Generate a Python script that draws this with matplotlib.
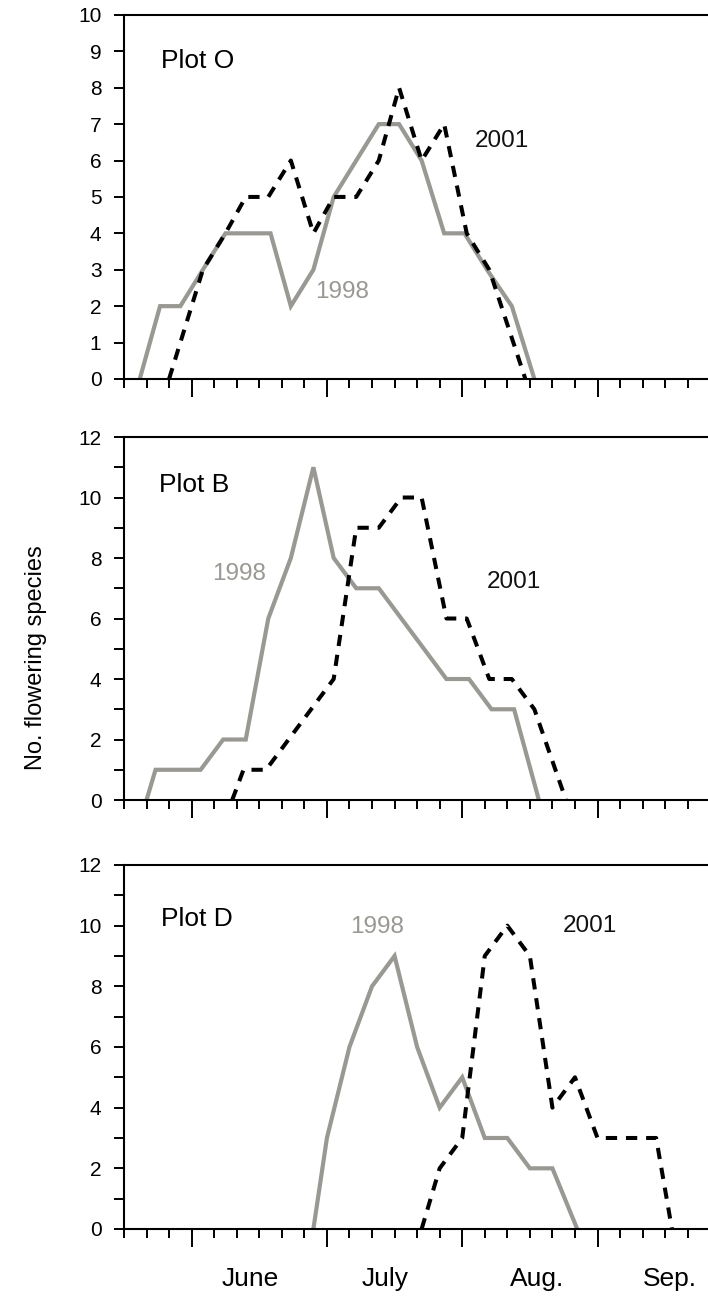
import matplotlib
matplotlib.use("Agg")
import matplotlib.pyplot as plt
from matplotlib.ticker import MultipleLocator, FixedLocator

plt.rcParams['font.family'] = ['Liberation Sans', 'DejaVu Sans']

# x values are days relative to 1 June, y values are number of flowering species
plot_o_1998_day = [-11.5, -7, -2.5, 2.5, 7.5, 12.5, 17.5, 22, 27, 31.5, 36.5, 41.5, 46, 51, 56, 60.5, 65.5, 71, 76]
plot_o_1998_n = [0, 2, 2, 3, 4, 4, 4, 2, 3, 5, 6, 7, 7, 6, 4, 4, 3, 2, 0]
plot_o_2001_day = [-5, 2.5, 7.5, 12, 17, 22, 27, 31.5, 36.5, 41.5, 46, 51, 56, 61, 66, 74]
plot_o_2001_n = [0, 3, 4, 5, 5, 6, 4, 5, 5, 6, 8, 6, 7, 4, 3, 0]

plot_b_1998_day = [-10, -8, -3, 2, 7, 12, 17, 22, 27, 31.5, 36.5, 41.5, 46.5, 51.5, 56.5, 61.5, 66.5, 71.5, 77]
plot_b_1998_n = [0, 1, 1, 1, 2, 2, 6, 8, 11, 8, 7, 7, 6, 5, 4, 4, 3, 3, 0]
plot_b_2001_day = [9, 11.5, 16.5, 21.5, 26.5, 31.5, 36.5, 41.5, 46.5, 51, 56.5, 61, 66, 71, 76, 83]
plot_b_2001_n = [0, 1, 1, 2, 3, 4, 9, 9, 10, 10, 6, 6, 4, 4, 3, 0]

plot_d_1998_day = [27, 30, 35, 40, 45, 50, 55, 60, 65, 70, 75, 80, 85.5]
plot_d_1998_n = [0, 3, 6, 8, 9, 6, 4, 5, 3, 3, 2, 2, 0]
plot_d_2001_day = [51, 55, 60, 65, 70, 75, 80, 85, 90, 96.5, 103, 106.5]
plot_d_2001_n = [0, 2, 3, 9, 10, 9, 4, 5, 3, 3, 3, 0]

plot_names = ['Plot O', 'Plot B', 'Plot D']
month_names = ['June', 'July', 'Aug.', 'Sep.']
month_label_day = [13, 43, 76.5, 106]

gray = '#9a9893'

fig = plt.figure(figsize=(7.08, 12.96), dpi=100)
ax_o = fig.add_axes([0.1751, 0.7076, 0.8281, 0.2809])
ax_b = fig.add_axes([0.1751, 0.3827, 0.8281, 0.2801])
ax_d = fig.add_axes([0.1751, 0.0517, 0.8281, 0.2809])

series = [
    (ax_o, plot_o_1998_day, plot_o_1998_n, plot_o_2001_day, plot_o_2001_n),
    (ax_b, plot_b_1998_day, plot_b_1998_n, plot_b_2001_day, plot_b_2001_n),
    (ax_d, plot_d_1998_day, plot_d_1998_n, plot_d_2001_day, plot_d_2001_n),
]

for ax, x98, y98, x01, y01 in series:
    ax.plot(x98, y98, color=gray, lw=3.0, solid_joinstyle='miter', zorder=2)
    ax.plot(x01, y01, color='black', lw=2.9, linestyle=(0, (2.8, 2.2)), zorder=3)

    ax.set_xlim(-15, 115)
    ax.xaxis.set_major_locator(FixedLocator([0, 30, 60, 90]))
    ax.xaxis.set_minor_locator(MultipleLocator(5))
    ax.tick_params(axis='x', which='major', length=13, width=1.4, labelbottom=False)
    ax.tick_params(axis='x', which='minor', length=6.5, width=1.4)
    ax.tick_params(axis='y', which='both', length=7.2, width=1.4, labelsize=15, pad=9)
    ax.spines['right'].set_visible(False)
    for side in ['left', 'top', 'bottom']:
        ax.spines[side].set_linewidth(1.5)

ax_o.set_ylim(0, 10)
ax_o.yaxis.set_major_locator(MultipleLocator(1))
for ax in [ax_b, ax_d]:
    ax.set_ylim(0, 12)
    ax.yaxis.set_major_locator(MultipleLocator(2))
    ax.yaxis.set_minor_locator(MultipleLocator(1))

# panel names
ax_o.text(-6.8, 8.54, plot_names[0], fontsize=19, va='baseline')
ax_b.text(-7.2, 10.17, plot_names[1], fontsize=19, va='baseline')
ax_d.text(-6.8, 9.99, plot_names[2], fontsize=19, va='baseline')

# year labels
ax_o.text(33.3, 2.23, '1998', color=gray, fontsize=17.5, ha='center', va='baseline')
ax_o.text(68.8, 6.37, '2001', color='#111111', fontsize=17.5, ha='center', va='baseline')
ax_b.text(10.5, 7.27, '1998', color=gray, fontsize=17.5, ha='center', va='baseline')
ax_b.text(71.5, 7.0, '2001', color='#111111', fontsize=17.5, ha='center', va='baseline')
ax_d.text(41.2, 9.75, '1998', color=gray, fontsize=17.5, ha='center', va='baseline')
ax_d.text(88.3, 9.79, '2001', color='#111111', fontsize=17.5, ha='center', va='baseline')

# month names under the bottom panel
for day, name in zip(month_label_day, month_names):
    ax_d.text(day, -1.88, name, fontsize=19, ha='center', va='baseline', clip_on=False)

fig.text(36 / 708, 1 - 658 / 1296, 'No. flowering species', fontsize=17,
         rotation=90, ha='center', va='center')

fig.savefig('out.png', dpi=100)
